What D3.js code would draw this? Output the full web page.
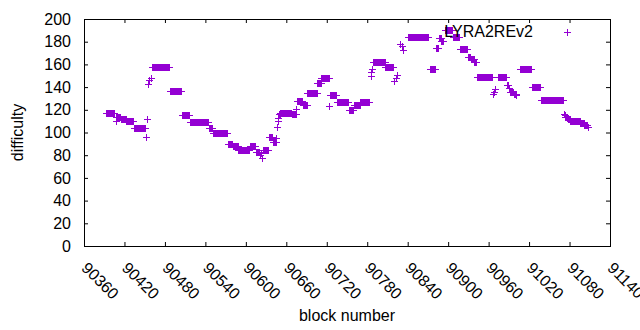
<!DOCTYPE html>
<html><head><meta charset="utf-8">
<script src="https://cdn.jsdelivr.net/npm/d3@7"></script>
<style>
html,body{margin:0;padding:0;background:#fff;}
svg{display:block;font-family:"Liberation Sans",Arial,sans-serif;}
</style></head><body>
<svg id="chart" width="640" height="330"></svg>
<script>
// Runs of consecutive blocks sharing one difficulty value
const runFirst = [90392,90407,90408,90415,90423,90434,90452,90453,90455,90457,90459,90461,90488,90505,90517,90545,90551,90574,90581,90589,90606,90615,90621,90622,90624,90625,90634,90640,90645,90646,90647,90648,90649,90651,90668,90675,90676,90685,90691,90706,90712,90724,90725,90735,90753,90760,90770,90785,90786,90787,90789,90807,90820,90822,90824,90829,90831,90833,90841,90873,90882,90886,90890,90895,90907,90918,90929,90934,90939,90943,90966,90968,90970,90974,90987,90990,90992,90997,91001,91006,91025,91037,91072,91073,91074,91077,91081,91096,91102,91107];
const runLast  = [90405,90407,90414,90422,90433,90451,90452,90453,90455,90457,90459,90486,90504,90516,90544,90550,90572,90580,90588,90605,90614,90620,90621,90623,90624,90633,90639,90644,90645,90646,90647,90648,90650,90667,90674,90675,90684,90690,90705,90711,90723,90724,90734,90752,90759,90769,90783,90785,90786,90787,90806,90818,90820,90822,90824,90829,90831,90833,90870,90881,90885,90889,90893,90906,90916,90928,90933,90938,90941,90965,90966,90968,90970,90986,90989,90990,90996,91000,91001,91023,91036,91070,91072,91073,91076,91080,91095,91101,91106,91107];
const runDifficulty = [117,110,113.5,112,110.5,104,96,112,143,146,148,157.5,137,115,109.5,104,100,89.5,88,85,88,83,80,82,77.5,84.5,96,92,95,105,110,113,116,117.5,116,121,127.5,124,134.5,143.5,148,123,133,127,120,124,127,150,153,156,162,158,145,148,151,178,176,173,184.5,156,174.5,183,181,190,184.5,174,166.5,164.5,162.5,149,134,136,138,149,141.5,139,136,134,133,155.7,139.8,128.2,116.5,115.5,114,112,110,108,106.5,105];

const xTicks = [90360,90420,90480,90540,90600,90660,90720,90780,90840,90900,90960,91020,91080,91140];
const yTicks = [0,20,40,60,80,100,120,140,160,180,200];
const seriesName = "LYRA2REv2";
const xLabel = "block number";
const yLabel = "difficulty";

const color = "#9400d3";
const svg = d3.select("#chart");
const L = 84, R = 610, T = 19, B = 246;

const x = d3.scaleLinear().domain([90360, 91140]).range([L, R]);
const y = d3.scaleLinear().domain([0, 200]).range([B, T]);

const points = [];
runFirst.forEach((f, i) => {
  for (let b = f; b <= runLast[i]; b++) points.push({block: b, difficulty: runDifficulty[i]});
});

// axes
const fontSize = 16;
const gx = svg.append("g").attr("transform", `translate(0,${B})`)
  .call(d3.axisBottom(x).tickValues(xTicks).tickSize(-4).tickSizeOuter(0).tickFormat(d3.format("d")));
gx.selectAll("text").attr("x", 0).attr("y", 0).attr("dy", null)
  .attr("transform", "translate(0,19) rotate(45)")
  .attr("text-anchor", "start").attr("dominant-baseline", "central");
const gxt = svg.append("g").attr("transform", `translate(0,${T})`)
  .call(d3.axisTop(x).tickValues(xTicks).tickSize(-4).tickSizeOuter(0).tickFormat(""));
const gy = svg.append("g").attr("transform", `translate(${L},0)`)
  .call(d3.axisLeft(y).tickValues(yTicks).tickSize(-4).tickSizeOuter(0).tickPadding(13));
const gyr = svg.append("g").attr("transform", `translate(${R},0)`)
  .call(d3.axisRight(y).tickValues(yTicks).tickSize(-4).tickSizeOuter(0).tickFormat(""));
[gx, gxt, gy, gyr].forEach(g => {
  g.select(".domain").remove();
  g.selectAll("line").attr("stroke", "#000");
  g.selectAll("text").attr("fill", "#000").style("font-size", fontSize + "px")
    .style("font-family", '"Liberation Sans",Arial,sans-serif');
});
svg.append("rect").attr("x", L + 0.5).attr("y", T + 0.5)
  .attr("width", R - L).attr("height", B - T)
  .attr("fill", "none").attr("stroke", "#000").attr("stroke-width", 1);

// axis titles
svg.append("text").attr("x", (L + R) / 2).attr("y", 321)
  .attr("text-anchor", "middle").style("font-size", fontSize + "px").text(xLabel);
svg.append("text").attr("transform", `translate(23,${(T + B) / 2}) rotate(-90)`)
  .attr("text-anchor", "middle").style("font-size", fontSize + "px").text(yLabel);

// points
const plus = "M-3.5,0H3.5M0,-3.5V3.5";
svg.append("g").selectAll("path").data(points).join("path")
  .attr("transform", d => `translate(${Math.round(x(d.block)) + 0.5},${Math.round(y(d.difficulty)) + 0.5})`)
  .attr("d", plus).attr("stroke", color).attr("stroke-width", 1).attr("fill", "none");

// legend
svg.append("text").attr("x", 533).attr("y", 31).attr("text-anchor", "end")
  .attr("dominant-baseline", "central").style("font-size", fontSize + "px").text(seriesName);
svg.append("path").attr("transform", "translate(567.5,32.5)")
  .attr("d", plus).attr("stroke", color).attr("stroke-width", 1).attr("fill", "none");
</script>
</body></html>
